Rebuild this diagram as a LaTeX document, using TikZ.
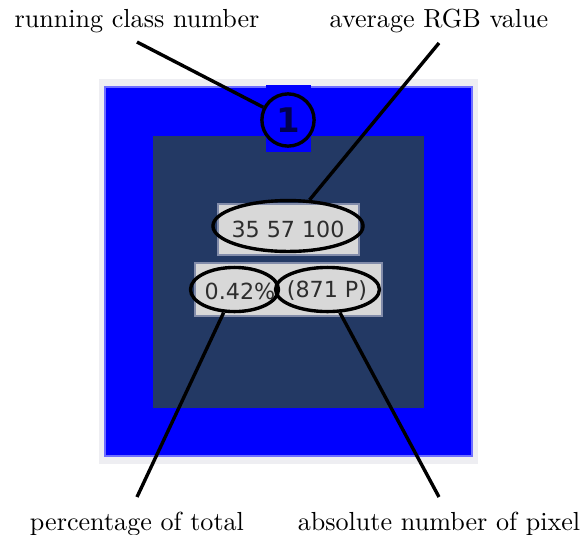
\documentclass[tikz,border=0pt]{standalone}
\usepackage{fontspec}
\newfontfamily\shotfont{DejaVu Sans}
\usetikzlibrary{shapes.geometric}

\definecolor{avgrgb}{RGB}{35,57,100}
\definecolor{framegray}{RGB}{238,238,242}
\definecolor{boxgray}{RGB}{216,216,216}
\definecolor{boxedge}{RGB}{130,140,170}
\definecolor{edgeblue}{RGB}{110,110,255}
\definecolor{classnavy}{RGB}{0,0,80}
\definecolor{shottext}{RGB}{45,45,45}

\begin{document}
\begin{tikzpicture}[x=0.383pt, y=-0.383pt]
    \tikzstyle{callout}=[line width=1.3pt]
    \tikzstyle{ring}=[ellipse, draw, line width=1.3pt, inner sep=0pt]
    \tikzstyle{shot}=[font=\shotfont\fontsize{8.5}{10}\selectfont, text=shottext]
    \tikzstyle{tag}=[anchor=base, inner sep=0pt]

      \useasboundingbox (0,0) rectangle (585,534);

      % class picture
      \fill[framegray] (99,79) rectangle (478,464);
      \filldraw[fill=blue, draw=edgeblue, line width=0.4pt] (105,87) rectangle (472,456);
      \fill[avgrgb] (153,136) rectangle (424,408);
      \fill[blue] (266,85) rectangle (311,152);

      % value boxes
      \filldraw[fill=boxgray, draw=boxedge, line width=0.5pt] (218,204) rectangle (359,255);
      \filldraw[fill=boxgray, draw=boxedge, line width=0.5pt] (195,263) rectangle (382,316);
      \node[shot] (rgbtxt) at (288,229) {35 57 100};
      \node[shot] (pcttxt) at (240,291) {0.42\%};
      \node[shot] (pixtxt) at (327,291) {(871 P)};

      % marks
      \node[circle, draw, line width=1.3pt, inner sep=0pt, minimum size=20pt,
            font=\shotfont\bfseries\fontsize{13}{15}\selectfont, text=classnavy] (classno) at (288,120) {1};
      \node[ring, minimum width=57.5pt, minimum height=19.5pt] (rgbring) at (288,226) {};
      \node[ring, minimum width=33.7pt, minimum height=16.9pt] (pctring) at (234.5,289.5) {};
      \node[ring, minimum width=39.8pt, minimum height=16.9pt] (pixring) at (327.5,289.5) {};

      % labels
      \node[tag] (runlbl) at (137,27) {running class number};
      \node[tag] (rgblbl) at (439,27) {average RGB value};
      \node[tag] (pctlbl) at (137,530) {percentage of total};
      \node[tag] (pixlbl) at (439,530) {absolute number of pixel};

      \coordinate (runfoot) at (137,42);
      \coordinate (rgbfoot) at (439,43);
      \coordinate (pctfoot) at (137,497);
      \coordinate (pixfoot) at (439,497);

      % callout lines
      \draw[callout] (runfoot) -- (classno);
      \draw[callout] (rgbfoot) -- (rgbring);
      \draw[callout] (pctfoot) -- (pctring);
      \draw[callout] (pixfoot) -- (pixring);

\end{tikzpicture}
\end{document}
